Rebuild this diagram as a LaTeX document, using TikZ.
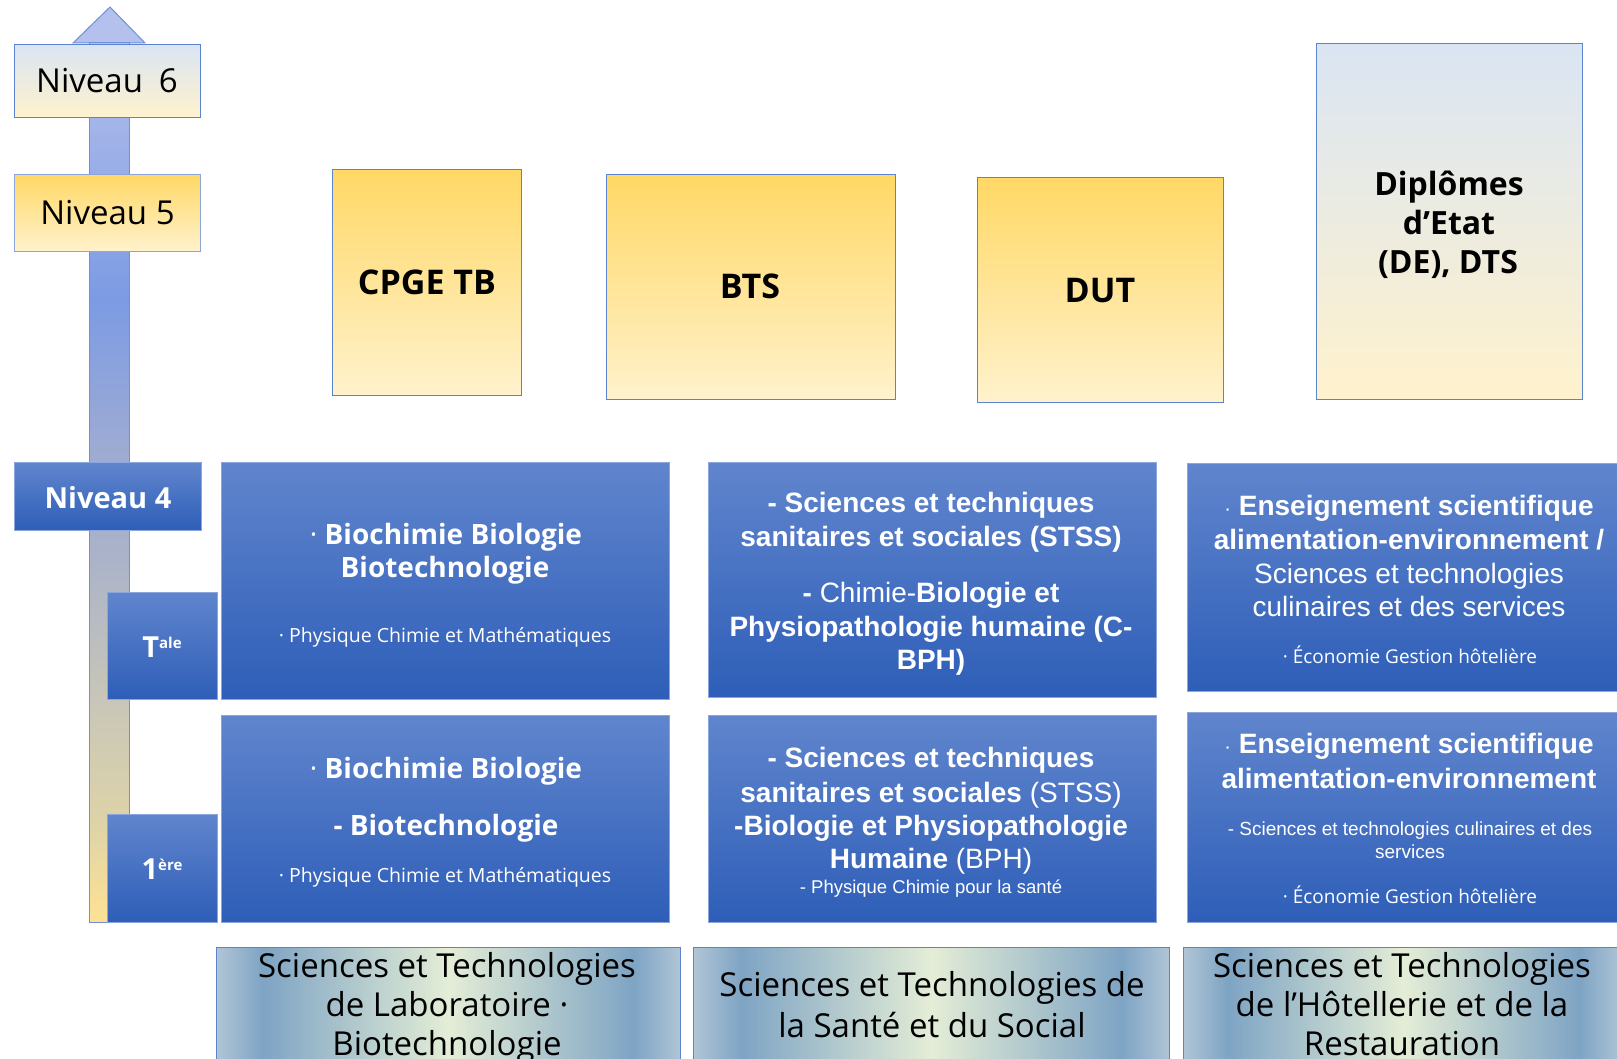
\documentclass[tikz,border=0pt]{standalone}
\usepackage{fontspec}
\setmainfont{Open Sans}
\newfontfamily\arialf{Liberation Sans}
\usetikzlibrary{shadings}
\definecolor{bltop}{HTML}{6085CD}
\definecolor{blbot}{HTML}{2E5EB8}
\definecolor{bledge}{HTML}{8AA6DC}
\definecolor{yltop}{HTML}{FFD865}
\definecolor{ylbot}{HTML}{FFF2CD}
\definecolor{pltop}{HTML}{DAE5F3}
\definecolor{boxline}{HTML}{5B84CF}
\definecolor{tri}{HTML}{B3C1EC}
\definecolor{arrline}{HTML}{6F90D8}
\definecolor{sha}{HTML}{B3C1EC}
\definecolor{shb}{HTML}{9DB0E8}
\definecolor{shc}{HTML}{7C9BE4}
\definecolor{shd}{HTML}{9CAAD4}
\definecolor{she}{HTML}{ABB3C8}
\definecolor{shf}{HTML}{C8C6B8}
\definecolor{shg}{HTML}{DDD3A9}
\definecolor{shh}{HTML}{FEE293}
\definecolor{stedge}{HTML}{B0C5D6}
\definecolor{stband}{HTML}{7EA4C4}
\definecolor{stmid}{HTML}{E4EDD6}
\pgfdeclareverticalshading{shaftsh}{100bp}{color(0bp)=(shh); color(25bp)=(shh); color(30.8bp)=(shg); color(37.6bp)=(shf); color(45.6bp)=(she); color(52.4bp)=(shd); color(60.4bp)=(shc); color(68.9bp)=(shb); color(75bp)=(sha); color(100bp)=(sha)}
\pgfdeclarehorizontalshading{stsh}{100bp}{color(0bp)=(stedge); color(25bp)=(stedge); color(30bp)=(stband); color(50bp)=(stmid); color(70bp)=(stband); color(75bp)=(stedge); color(100bp)=(stedge)}
\newcommand\myfR[1]{\fontsize{#1pt}{#1pt}\selectfont\mdseries}
\newcommand\myfB[1]{\fontsize{#1pt}{#1pt}\selectfont\bfseries}
\begin{document}
\begin{tikzpicture}[x=1pt,y=-1pt,
  rbox/.style={rectangle, anchor=north west, inner sep=0pt, line width=1.2pt},
  bluebox/.style={rbox, draw=bledge, top color=bltop, bottom color=blbot},
  yelbox/.style={rbox, draw=boxline, top color=yltop, bottom color=ylbot},
  palebox/.style={rbox, draw=boxline, top color=pltop, bottom color=ylbot},
  stbox/.style={rbox, draw=boxline, shading=stsh},
  wt/.style={text=white, anchor=base, inner sep=0pt},
  kt/.style={text=black, anchor=base, inner sep=0pt}]
\useasboundingbox (0,0) rectangle (1617,1059);
\clip (0,0) rectangle (1617,1059);
% vertical arrow
\filldraw[fill=tri, draw=arrline, line width=1pt] (110,7) -- (145,43) -- (73,43) -- cycle;
\shadedraw[shading=shaftsh, draw=arrline, line width=1pt] (89,43) rectangle (129,922);
% level boxes
\node[palebox, minimum width=186pt, minimum height=73pt] (n6) at (14,44) {};
\node[yelbox, draw=bledge, minimum width=186pt, minimum height=77pt] (n5) at (14,174) {};
\node[bluebox, minimum width=187pt, minimum height=68pt] (n4) at (14,462) {};
\node[bluebox, minimum width=110pt, minimum height=107pt] (tale) at (107,592) {};
\node[bluebox, minimum width=110pt, minimum height=108pt] (prem) at (107,814) {};
\node[kt, font=\myfR{33}] (tn6) at (107,93) {Niveau\hspace{16pt}6};
\node[kt, font=\myfR{33}] (tn5) at (107.5,225) {Niveau 5};
\node[wt, font=\myfB{29}] (tn4) at (108,508) {Niveau 4};
\node[wt, font=\myfB{29}] (ttale) at (162,657) {T\raisebox{9pt}{\myfB{15}ale}};
\node[wt, font=\myfB{29}] (tprem) at (162,879) {1\raisebox{9pt}{\myfB{15}ère}};
% upper diplomas
\node[yelbox, minimum width=189pt, minimum height=226pt] (cpge) at (332,169) {};
\node[yelbox, minimum width=289pt, minimum height=225pt] (bts) at (606,174) {};
\node[yelbox, minimum width=246pt, minimum height=225pt] (dut) at (977,177) {};
\node[palebox, minimum width=266pt, minimum height=356pt] (dipl) at (1316,43) {};
\node[kt, font=\myfB{34}] (tcpge) at (427,295) {CPGE TB};
\node[kt, font=\myfB{34}] (tbts) at (750,299) {BTS};
\node[kt, font=\myfB{34}] (tdut) at (1100,303) {DUT};
\node[kt, font=\myfB{32}] (td1) at (1449,196) {Diplômes};
\node[kt, font=\myfB{32}] (td2) at (1449,235) {d’Etat};
\node[kt, font=\myfB{32}] (td3) at (1448,274) {(DE), DTS};
% blue boxes
\node[bluebox, minimum width=448pt, minimum height=237pt] (b11) at (221,462) {};
\node[bluebox, minimum width=448pt, minimum height=207pt] (b12) at (221,715) {};
\node[bluebox, minimum width=448pt, minimum height=235pt] (b21) at (708,462) {};
\node[bluebox, minimum width=448pt, minimum height=207pt] (b22) at (708,715) {};
\node[bluebox, minimum width=445pt, minimum height=228pt] (b31) at (1187,463) {};
\node[bluebox, minimum width=445pt, minimum height=210pt] (b32) at (1187,712) {};
% column 1 texts
\node[wt, font=\myfB{28}] (a1) at (446,544) {{\mdseries·} Biochimie Biologie};
\node[wt, font=\myfB{28}] (a2) at (445,577) {Biotechnologie};
\node[wt, font=\myfR{19.5}] (a3) at (445,642) {· Physique Chimie et Mathématiques};
\node[wt, font=\myfB{28}] (a4) at (446,778) {{\mdseries·} Biochimie Biologie};
\node[wt, font=\myfB{28}] (a5) at (446,835) {- Biotechnologie};
\node[wt, font=\myfR{19.5}] (a6) at (445,882) {· Physique Chimie et Mathématiques};
% column 2 texts
\node[wt, font=\arialf\myfB{28}] (c1) at (931,512) {- Sciences et techniques};
\node[wt, font=\arialf\myfB{28}] (c2) at (931,546) {sanitaires et sociales (STSS)};
\node[wt, font=\arialf\myfB{28}] (c3) at (931,602) {- {\mdseries Chimie-}Biologie et};
\node[wt, font=\arialf\myfB{28}] (c4) at (931,636) {Physiopathologie humaine (C-};
\node[wt, font=\arialf\myfB{28}] (c5) at (931,669) {BPH)};
\node[wt, font=\arialf\myfB{28}] (c6) at (931,767) {- Sciences et techniques};
\node[wt, font=\arialf\myfB{28}] (c7) at (931,802) {sanitaires et sociales {\mdseries (STSS)}};
\node[wt, font=\arialf\myfB{28}] (c8) at (931,835) {-Biologie et Physiopathologie};
\node[wt, font=\arialf\myfB{28}] (c9) at (931,868) {Humaine {\mdseries (BPH)}};
\node[wt, font=\arialf\myfR{18.5}] (c10) at (931,893) {- Physique Chimie pour la santé};
% column 3 texts
\node[wt, font=\arialf\myfB{28}] (e1) at (1409,515) {{\mdseries\myfR{20}·} Enseignement scientifique};
\node[wt, font=\arialf\myfB{28}] (e2) at (1409,549) {alimentation-environnement /};
\node[wt, font=\arialf\myfR{28}] (e3) at (1409,583) {Sciences et technologies};
\node[wt, font=\arialf\myfR{28}] (e4) at (1409,616) {culinaires et des services};
\node[wt, font=\myfR{19}] (e5) at (1410,663) {· Économie Gestion hôtelière};
\node[wt, font=\arialf\myfB{28}] (e6) at (1409,753) {{\mdseries\myfR{20}·} Enseignement scientifique};
\node[wt, font=\arialf\myfB{28}] (e7) at (1409,788) {alimentation-environnement};
\node[wt, font=\arialf\myfR{19}] (e8) at (1410,835) {- Sciences et technologies culinaires et des};
\node[wt, font=\arialf\myfR{19}] (e9) at (1410,858) {services};
\node[wt, font=\myfR{19}] (e10) at (1410,903) {· Économie Gestion hôtelière};
% bottom series boxes
\node[stbox, minimum width=464pt, minimum height=125pt] (s1) at (216,947) {};
\node[stbox, minimum width=476pt, minimum height=125pt] (s2) at (693,947) {};
\node[stbox, minimum width=440pt, minimum height=125pt] (s3) at (1183,947) {};
\node[kt, font=\myfR{33}] (u1) at (447,977) {Sciences et Technologies};
\node[kt, font=\myfR{33}] (u2) at (447,1016) {de Laboratoire ·};
\node[kt, font=\myfR{33}] (u3) at (447,1055) {Biotechnologie};
\node[kt, font=\myfR{33}] (u4) at (932,996) {Sciences et Technologies de};
\node[kt, font=\myfR{33}] (u5) at (932,1037) {la Santé et du Social};
\node[kt, font=\myfR{33}] (u6) at (1402,977) {Sciences et Technologies};
\node[kt, font=\myfR{33}] (u7) at (1402,1016) {de l’Hôtellerie et de la};
\node[kt, font=\myfR{33}] (u8) at (1402,1055) {Restauration};
\end{tikzpicture}
\end{document}
